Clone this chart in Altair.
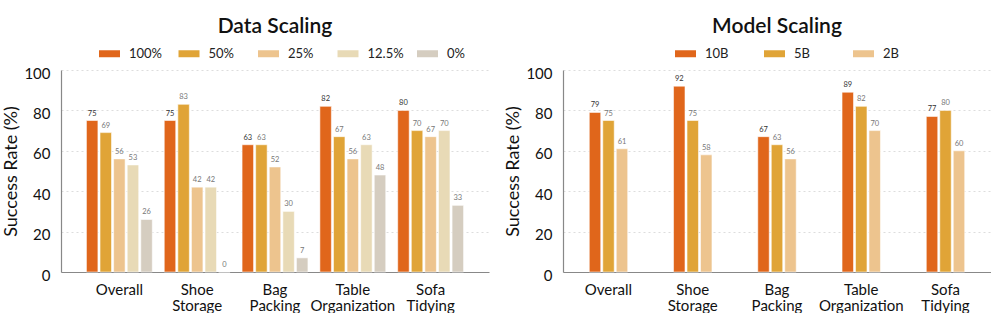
import altair as alt
import pandas as pd

tasks = ["Overall", "Shoe Storage", "Bag Packing", "Table Organization", "Sofa Tidying"]

data_series = ["100%", "50%", "25%", "12.5%", "0%"]
data_colors = ["#E0661B", "#E0A437", "#EDC48E", "#E8DAB6", "#D5CDC0"]
data_100 = [75, 75, 63, 82, 80]
data_50 = [69, 83, 63, 67, 70]
data_25 = [56, 42, 52, 56, 67]
data_12 = [53, 42, 30, 63, 70]
data_0 = [26, 0, 7, 48, 33]

model_series = ["10B", "5B", "2B"]
model_colors = ["#E0661B", "#E0A437", "#EDC48E"]
model_10b = [79, 92, 67, 89, 77]
model_5b = [75, 75, 63, 82, 80]
model_2b = [61, 58, 56, 70, 60]

FONT = "Lato"

def build_df(series, values):
    rows = []
    for s, vals in zip(series, values):
        for t, v in zip(tasks, vals):
            rows.append({"task": t, "series": s, "value": v})
    return pd.DataFrame(rows)

df_data = build_df(data_series, [data_100, data_50, data_25, data_12, data_0])
df_model = build_df(model_series, [model_10b, model_5b, model_2b])

RECT = "M-1,-0.333H1V0.333H-1Z"

def panel(df, series, colors, title, x_pi, x_po, off_pi, off_po, legend_x, col_pad):
    x = alt.X("task:N", sort=tasks, title=None,
              scale=alt.Scale(paddingInner=x_pi, paddingOuter=x_po),
              axis=alt.Axis(labelExpr="split(datum.label, ' ')", labelAngle=0,
                            labelFontSize=15, labelColor="#111", labelFont=FONT,
                            labelPadding=10, labelLineHeight=16, ticks=False,
                            domainColor="#888", domainWidth=1.2))
    xo = alt.XOffset("series:N", sort=series,
                     scale=alt.Scale(paddingInner=off_pi, paddingOuter=off_po))
    y = alt.Y("value:Q", title="Success Rate (%)",
              scale=alt.Scale(domain=[0, 100], nice=False),
              axis=alt.Axis(values=[0, 20, 40, 60, 80, 100], ticks=False,
                            labelFontSize=15, labelColor="#111", labelFont=FONT,
                            labelPadding=11, labelOffset=3,
                            titleFontSize=18, titleFont=FONT, titleFontWeight="normal",
                            titleColor="#111", titlePadding=3,
                            domainColor="#888", domainWidth=1.2,
                            gridColor="#dddddd", gridDash=[2, 3], gridWidth=1))
    base = alt.Chart(df)
    bars = base.mark_bar(stroke="white", strokeWidth=1, strokeOpacity=0.55).encode(
        x=x, xOffset=xo, y=y,
        color=alt.Color("series:N", sort=series,
                        scale=alt.Scale(domain=series, range=colors),
                        legend=alt.Legend(title=None, orient="none", direction="horizontal",
                                          columns=len(series), gridAlign="all",
                                          columnPadding=col_pad,
                                          legendX=legend_x, legendY=-27,
                                          symbolType=RECT, symbolSize=441,
                                          symbolStrokeWidth=0, symbolOpacity=1,
                                          labelFontSize=13, labelFont=FONT,
                                          labelFontWeight="normal",
                                          labelColor="#222", labelOffset=9,
                                          padding=0)),
    )
    labels = base.mark_text(baseline="bottom", dy=-3, fontSize=7.5, font=FONT).encode(
        x=x, xOffset=xo, y=y, text="value:Q",
        color=alt.condition(alt.datum.series == series[0], alt.value("#333333"), alt.value("#777777")),
    )
    return alt.layer(bars, labels).properties(
        width=428, height=202,
        title=alt.TitleParams(title, fontSize=21, font=FONT, fontWeight=600,
                              color="#111", anchor="middle", offset=6),
    )

left = panel(df_data, data_series, data_colors, "Data Scaling", 0, 0.25, 0.155, 0.44, 38, 12.5)
right = panel(df_model, model_series, model_colors, "Model Scaling", 0.52, 0.30, 0.15, 0.075, 112, 35)

chart = alt.hconcat(left, right, spacing=15).resolve_scale(
    color="independent", x="independent", xOffset="independent"
).resolve_legend(color="independent").properties(
    padding={"left": 2, "top": 16, "right": 0, "bottom": 0}
).configure_view(stroke=None)

chart.save("out.html", embed_options={"renderer": "svg", "actions": False})
